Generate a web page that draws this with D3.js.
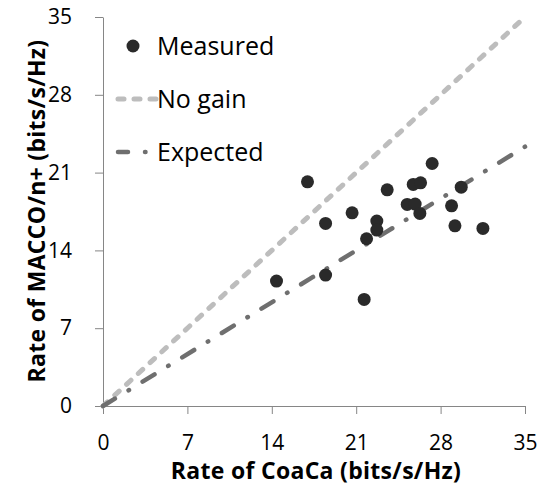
<!DOCTYPE html>
<html>
<head>
<meta charset="utf-8">
<script src="https://cdn.jsdelivr.net/npm/d3@7"></script>
<style>
  body { margin: 0; background: #fff; }
  text { font-family: "Open Sans", Lato, sans-serif; }
</style>
</head>
<body>
<div id="chart"></div>
<script>
// frame
const FRAME_WIDTH = 548;
const FRAME_HEIGHT = 500;
const MARGINS = {left: 103, right: 23, top: 17, bottom: 94};
const VIS_WIDTH = FRAME_WIDTH - MARGINS.left - MARGINS.right;
const VIS_HEIGHT = FRAME_HEIGHT - MARGINS.top - MARGINS.bottom;

// data
const coacaRate = [16.96, 27.3, 25.73, 26.34, 23.57, 29.71, 20.66, 18.46, 25.23, 25.89,
                   26.28, 28.91, 22.71, 22.71, 21.86, 29.19, 31.51, 14.39, 18.46, 21.66];
const maccoRate = [20.17, 21.82, 19.94, 20.08, 19.45, 19.69, 17.38, 16.43, 18.14, 18.17,
                   17.33, 18.01, 16.64, 15.83, 15.05, 16.21, 15.98, 11.24, 11.78, 9.59];
const noGainLine = [[0, 0], [35, 35]];
const expectedLine = [[0, 0], [35, 23.33]];
const tickValues = [0, 7, 14, 21, 28, 35];
const legendLabels = ["Measured", "No gain", "Expected"];

const DOT_COLOR = "#2a2a2a";
const NOGAIN_COLOR = "#bdbdbd";
const EXPECTED_COLOR = "#6f6f6f";
const NOGAIN_DASH = "6,10";
const EXPECTED_DASH = "14,16,0.5,16";

const FRAME = d3.select("#chart")
  .append("svg")
    .attr("width", FRAME_WIDTH)
    .attr("height", FRAME_HEIGHT);

const X_SCALE = d3.scaleLinear().domain([0, 35]).range([0, VIS_WIDTH]);
const Y_SCALE = d3.scaleLinear().domain([0, 35]).range([VIS_HEIGHT, 0]);

const G = FRAME.append("g")
  .attr("transform", "translate(" + MARGINS.left + "," + MARGINS.top + ")");

// x axis
const xAxis = G.append("g")
  .attr("transform", "translate(0," + VIS_HEIGHT + ")")
  .call(d3.axisBottom(X_SCALE).tickValues(tickValues).tickSize(8).tickSizeOuter(0).tickPadding(21));

// y axis
const yAxis = G.append("g")
  .call(d3.axisLeft(Y_SCALE).tickValues(tickValues).tickSize(8).tickSizeOuter(0).tickPadding(23));

[xAxis, yAxis].forEach(ax => {
  ax.select(".domain").attr("stroke", "#868686");
  ax.selectAll(".tick line").attr("stroke", "#868686");
  ax.selectAll(".tick text")
    .attr("font-size", "21px")
    .attr("font-family", "'Open Sans', sans-serif")
    .attr("fill", "#000");
});

// lines
const line = d3.line().x(d => X_SCALE(d[0])).y(d => Y_SCALE(d[1]));

G.append("path")
  .datum(noGainLine)
  .attr("d", line)
  .attr("fill", "none")
  .attr("stroke", NOGAIN_COLOR)
  .attr("stroke-width", 5)
  .attr("stroke-linecap", "round")
  .attr("stroke-dasharray", NOGAIN_DASH);

G.append("path")
  .datum(expectedLine)
  .attr("d", line)
  .attr("fill", "none")
  .attr("stroke", EXPECTED_COLOR)
  .attr("stroke-width", 4.5)
  .attr("stroke-linecap", "round")
  .attr("stroke-dasharray", EXPECTED_DASH);

// measured points
G.selectAll(".pt")
  .data(coacaRate.map((x, i) => [x, maccoRate[i]]))
  .enter()
  .append("circle")
    .attr("cx", d => X_SCALE(d[0]))
    .attr("cy", d => Y_SCALE(d[1]))
    .attr("r", 6.5)
    .attr("fill", DOT_COLOR);

// legend
const LEG = FRAME.append("g");
LEG.append("circle").attr("cx", 133).attr("cy", 46).attr("r", 6.5).attr("fill", DOT_COLOR);
LEG.append("line").attr("x1", 118).attr("x2", 156).attr("y1", 99).attr("y2", 99)
  .attr("stroke", NOGAIN_COLOR).attr("stroke-width", 5).attr("stroke-linecap", "round")
  .attr("stroke-dasharray", NOGAIN_DASH);
LEG.append("line").attr("x1", 118).attr("x2", 150).attr("y1", 152).attr("y2", 152)
  .attr("stroke", EXPECTED_COLOR).attr("stroke-width", 4.5).attr("stroke-linecap", "round")
  .attr("stroke-dasharray", "10,17,0.5,16");
LEG.selectAll(".lt")
  .data(legendLabels)
  .enter()
  .append("text")
    .attr("x", 157)
    .attr("y", (d, i) => 46 + i * 53)
    .attr("dy", "0.36em")
    .attr("font-size", "25px")
    .attr("fill", "#000")
    .text(d => d);

// axis titles
FRAME.append("text")
  .attr("x", 316)
  .attr("y", 479)
  .attr("text-anchor", "middle")
  .attr("font-size", "23px")
  .attr("font-weight", "bold")
  .attr("letter-spacing", "0.3px")
  .text("Rate of CoaCa (bits/s/Hz)");

FRAME.append("text")
  .attr("transform", "translate(45,211) rotate(-90)")
  .attr("text-anchor", "middle")
  .attr("font-size", "23px")
  .attr("font-weight", "bold")
  .attr("letter-spacing", "0.3px")
  .text("Rate of MACCO/n+ (bits/s/Hz)");
</script>
</body>
</html>
